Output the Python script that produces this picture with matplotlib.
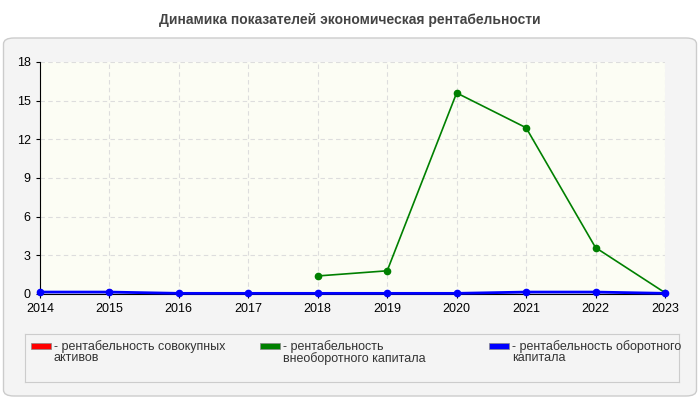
import matplotlib
matplotlib.use("Agg")
import matplotlib.pyplot as plt
import numpy as np
from matplotlib.patches import FancyBboxPatch

plt.rcParams['font.family'] = ['Liberation Sans', 'DejaVu Sans']

years = [2014, 2015, 2016, 2017, 2018, 2019, 2020, 2021, 2022, 2023]
red = [None, 0.15, None, None, None, None, None, None, None, None]
green = [None, None, None, None, 1.4, 1.8, 15.6, 12.9, 3.6, 0.1]
blue = [0.15, 0.15, 0.05, 0.05, 0.05, 0.05, 0.05, 0.15, 0.15, 0.05]
labels = ["- рентабельность совокупных\nактивов", "- рентабельность\nвнеоборотного капитала",
          "- рентабельность оборотного\nкапитала"]
colors = ["#ff0000", "#008000", "#0000ff"]

def arr(v):
    return np.array([np.nan if x is None else x for x in v], dtype=float)

fig = plt.figure(figsize=(7, 4), dpi=100)
fig.patch.set_facecolor("white")
panel = FancyBboxPatch((0.005, 0.01), 0.99, 0.895, boxstyle="round,pad=0,rounding_size=0.015",
                       transform=fig.transFigure, facecolor="#f4f4f4", edgecolor="#cccccc", lw=1,
                       zorder=-10)
fig.patches.append(panel)
fig.text(0.5, 0.95, "Динамика показателей экономическая рентабельности", ha="center", va="center",
         fontsize=10, fontweight="bold", color="#444444")

ax = fig.add_axes([0.057, 0.265, 0.893, 0.58])
ax.set_facecolor("#fcfdf4")
ax.set_xlim(2014, 2023)
ax.set_ylim(0, 18)
ax.set_yticks([0, 3, 6, 9, 12, 15, 18])
ax.set_xticks(years)
ax.grid(True, color="#dddddd", linestyle=(0, (4, 3)), lw=0.8)
for s in ["top", "right"]:
    ax.spines[s].set_visible(False)
ax.tick_params(labelsize=9, length=3)
x = np.array(years)
ax.plot(x, arr(red), color=colors[0], lw=2, marker="o", ms=4)
ax.plot(x, arr(green), color=colors[1], lw=1.2, marker="o", ms=4.5)
ax.plot(x, arr(blue), color=colors[2], lw=2, marker="o", ms=4.5, clip_on=False, zorder=5)

lax = fig.add_axes([0.035, 0.045, 0.935, 0.12])
lax.set_xticks([]); lax.set_yticks([])
lax.set_facecolor("#f4f4f4")
for s in lax.spines.values():
    s.set_color("#cccccc")
lax.set_xlim(0, 1); lax.set_ylim(0, 1)
for i, (lab, c) in enumerate(zip(labels, colors)):
    x0 = 0.01 + i * 0.35
    lax.add_patch(plt.Rectangle((x0, 0.68), 0.03, 0.14, facecolor=c, edgecolor="#888888", lw=0.5))
    lax.text(x0 + 0.035, 0.88, lab, va="top", fontsize=9, color="#333333", linespacing=0.95)

fig.savefig("out.png", dpi=100)
